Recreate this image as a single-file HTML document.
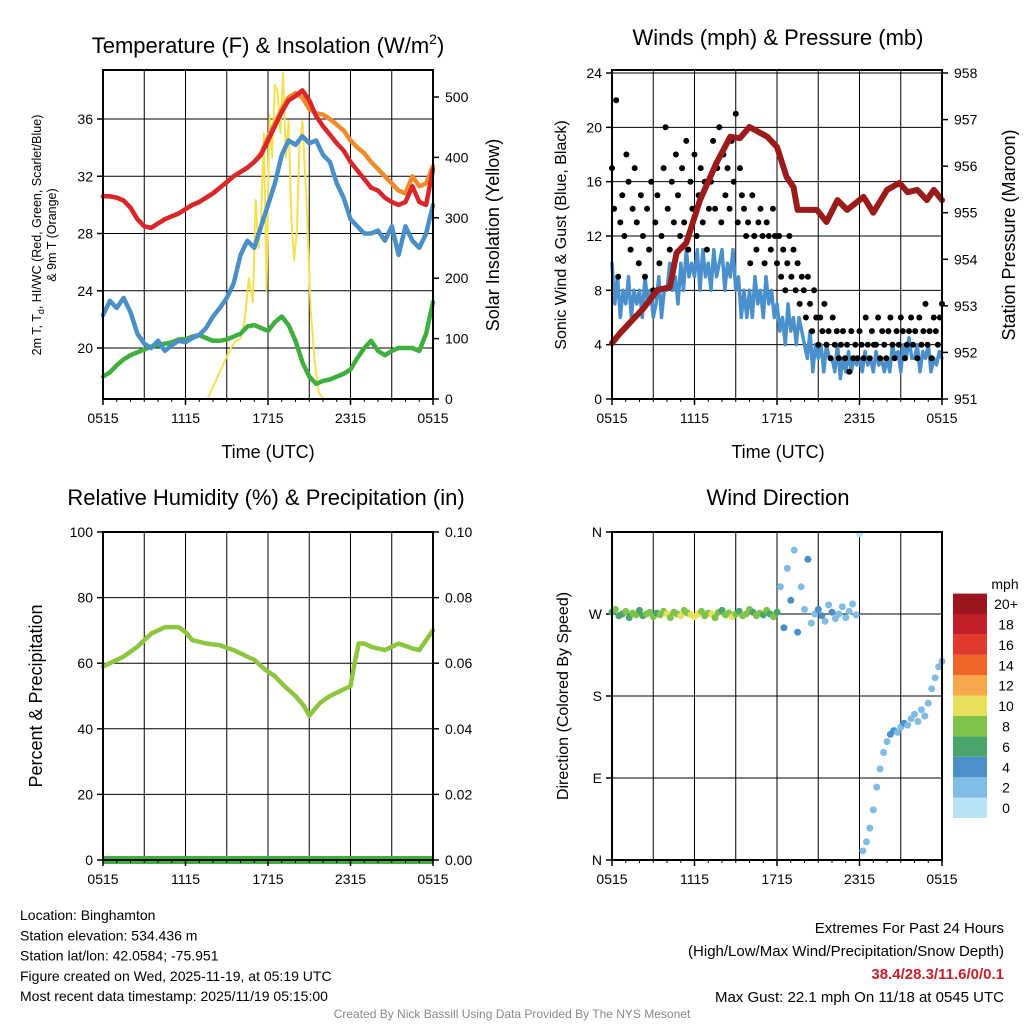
<!DOCTYPE html>
<html><head><meta charset="utf-8">
<style>
html,body{margin:0;padding:0;background:#fff;}
svg{display:block;font-family:"Liberation Sans",Arial,sans-serif;}
</style></head>
<body>
<svg id="s" width="1024" height="1024" viewBox="0 0 1024 1024" xmlns="http://www.w3.org/2000/svg">
<rect width="1024" height="1024" fill="#fff"/>
</svg>
<script>
// ---------- DATA ----------
const hourTicks = ["0515","1115","1715","2315","0515"];
const tempTicks = [20,24,28,32,36];
const insTicks = [0,100,200,300,400,500];
const windTicks = [0,4,8,12,16,20,24];
const presTicks = [951,952,953,954,955,956,957,958];
const rhTicks = [0,20,40,60,80,100];
const precipTicks = ["0.00","0.02","0.04","0.06","0.08","0.10"];
const dirTicks = ["N","E","S","W","N"];
const legendLabels = ["0","2","4","6","8","10","12","14","16","18","20+"];

const tempT = [30.6,30.6,30.5,30.3,29.8,29.0,28.5,28.4,28.7,29,29.2,29.4,29.7,30,30.2,30.5,30.8,31.2,31.6,32,32.3,32.6,33,33.5,34.5,35.5,36.5,37.3,37.6,38,37.3,36.2,35.5,34.9,34.3,33.8,33,32.4,31.8,31.2,31,30.5,30.2,30,30.2,31.3,30.2,30,32.5];
const temp9m = [30.6,30.6,30.5,30.3,29.8,29.0,28.5,28.4,28.7,29,29.2,29.4,29.7,30,30.2,30.5,30.8,31.2,31.6,32,32.3,32.6,33,33.6,34.7,35.7,36.7,37.5,37.8,37.5,36.7,36.4,36.3,36,35.6,35.2,34.5,34,33.6,33,32.5,32,31.5,31,30.8,32,31.3,31.5,32.7];
const heatIdx = [22.3,23.3,22.8,23.5,22.5,21,20.3,20,20.5,19.8,20.2,20.5,20.4,20.7,20.9,21.4,22.2,22.8,23.5,24.5,26.5,27.5,27,28.5,30,31.5,33.5,34.5,34.2,34.8,34.3,34.5,33.5,33,31.5,30.5,29,28.5,28,28,28.2,27.5,28.5,26.5,28.5,27.5,27,28,30];
const dewPt = [18,18.3,18.8,19.2,19.5,19.7,19.9,20.1,20.2,20.3,20.4,20.6,20.6,20.8,20.9,20.7,20.5,20.5,20.6,20.8,21,21.5,21.6,21.4,21.2,21.8,22.2,21.6,20.5,19,18,17.5,17.7,17.8,18,18.2,18.5,19.3,20,20.5,19.8,19.5,19.8,20,20,20,19.8,21,23.2];
const insHours = [0,7.6,8.0,8.4,8.8,9.2,9.6,10.0,10.3,10.6,10.9,11.1,11.3,11.5,11.7,11.9,12.1,12.3,12.5,12.7,12.9,13.1,13.3,13.5,13.7,13.9,14.1,14.3,14.5,14.8,15.1,15.4,15.7,16.0,24];
const insVals = [0,0,20,40,60,80,95,100,130,200,160,330,250,300,440,180,470,400,520,510,440,540,400,460,300,230,280,420,460,330,150,60,10,0,0];

const windSpd = [10,7,9,6,8,7,9,6,8,7, 8,6,9,7,8,6,7,9,6,8, 8,10,8,9,7,10,8,11,9,10, 9,11,8,11,9,10,8,11,9,10, 11,8,10,9,11,8,9,6,8,6, 8,6,9,7,8,6,9,7,8,6, 7,5,6,4,7,5,6,4,6,5, 4,3,5,2,4,3,4,2,4,3, 3,2,4,1.5,3,2,3.5,2,3,2.5, 3,2,3.5,2.5,3,2,3.5,2.5,3,2, 3,2,4,3,3.5,2,4,3,4.5,3, 3,4,2,3.5,3,4,2,3,2.5,3.5, 3];
const gustVals = [17,14,22,9,13,15,12,18,16,11,14,17,13,10,15,12,
 9,14,11,16,8,13,15,10,12,17,20,14,11,16,13,18,
 15,12,17,13,19,11,16,14,18,12,15,17,13,16,11,14,
 16,19,14,17,20,13,18,15,17,14,19,16,21,13,17,15,
 14,12,13,10,15,12,11,13,14,12,10,13,12,11,14,12,
 10,12,9,11,8,10,12,9,11,8,10,7,9,8,6,9,
 7,5,8,6,4,6,5,7,4,5,3,6,4,5,3,4,
 5,3,4,2,5,3,4,3,5,4,3,6,4,3,5,4,
 4,6,3,5,4,3,5,6,4,3,5,4,6,5,3,4,
 5,6,4,5,3,6,4,5,7,4,5,3,6,5,4,6,
 7];
const presHours = [0,0.6,1.5,2.3,3.3,4.2,4.7,5.4,6.4,7.6,8.6,9.3,10,11.3,12,12.7,13.2,13.5,14.9,15.6,16.4,17.1,18.3,19,20,20.9,21.5,22.2,22.9,23.4,24];
const presVals = [952.2,952.42,952.7,952.95,953.34,953.4,954.14,954.35,955.27,956.07,956.63,956.6,956.84,956.63,956.41,955.77,955.55,955.06,955.06,954.8,955.27,955.06,955.34,955.0,955.49,955.64,955.44,955.49,955.27,955.49,955.27];

const rhHours = [0,1.5,2.5,3.5,4.5,5.5,6,6.5,7.5,8.5,9.5,10.5,11,11.8,12.5,13.2,14,14.6,15,15.4,15.8,16.5,17.5,18,18.3,18.6,19,19.5,20.5,21,21.5,22.5,23,23.5,24];
const rhVals = [59,62,65,69,71,71,69.5,67,66,65.5,64,62,61,58,56,53,50,47,44,46,48,50,52,53,60,66,66,65,64,65,66,64.5,64,67,70];

const dirVals = [272,275,268,270,273,266,271,269,274,268,270,272,267,271,269,273,270,266,272,270,268,274,271,269,267,270,273,268,271,270,266,272,274,269,271,267,270,273,268,270,275,272,268,271,269,274,270,267,272,
 300,255,320,285,340,250,300,275,330,260,
 270,275,268,262,280,272,265,270,278,266,273,281,269,
 358,10,20,35,55,80,100,118,130,138,142,140,146,150,148,155,160,152,165,158,172,188,200,212,218];
const dirSpd = [7,8,7,6,8,7,9,8,7,6,8,9,8,7,8,9,10,9,8,9,10,9,8,10,11,10,9,8,9,10,9,8,7,8,9,10,8,7,8,9,8,7,8,9,7,8,7,8,7,
 3,4,2,4,3,5,2,3,4,3,
 3,4,5,2,3,4,2,3,2,3,2,2,3,
 1,2,2,3,2,2,3,2,3,4,4,3,2,4,3,2,3,2,3,2,2,2,2,2,2];
const speedColors = ["#b8e3f7","#7fbce6","#4a8fc8","#4aa56c","#7fc34a","#e6e05a","#f6a84a","#f0662a","#e03a2c","#c11e28","#9a161c"];

// ---------- HELPERS ----------
const S = document.getElementById('s');
const NS = "http://www.w3.org/2000/svg";
function mk(tag, attrs, parent){ const e=document.createElementNS(NS,tag); for(const k in attrs) e.setAttribute(k,attrs[k]); (parent||S).appendChild(e); return e; }
function txt(x,y,str,size,anchor,parent,extra){ const t=mk('text',Object.assign({x:x,y:y,'font-size':size,'text-anchor':anchor||'middle',fill:'#000'},extra||{}),parent); t.textContent=str; return t; }
function lin(d0,d1,r0,r1){ return v=>r0+(v-d0)*(r1-r0)/(d1-d0); }

const P = [
 {x0:103,x1:433,y0:70,y1:399},
 {x0:612,x1:942,y0:70,y1:399},
 {x0:103,x1:433,y0:532,y1:860},
 {x0:612,x1:942,y0:532,y1:860}
];
function frame(p,name){
  const g=mk('g',{});
  
  
  for(let h=3;h<24;h+=3){ const x=p.x0+h*(p.x1-p.x0)/24; mk('line',{x1:x,x2:x,y1:p.y0,y2:p.y1,stroke:'#000','stroke-width':1},g); }
  return g;
}
function box(p){ mk('rect',{x:p.x0,y:p.y0,width:p.x1-p.x0,height:p.y1-p.y0,fill:'none',stroke:'#000','stroke-width':2}); }
function xAxis(p,name){
  const g=mk('g',{});
  
  
  hourTicks.forEach((lab,i)=>{ const x=p.x0+i*(p.x1-p.x0)/4; mk('line',{x1:x,x2:x,y1:p.y1,y2:p.y1+6,stroke:'#000','stroke-width':1.5},g); txt(x,p.y1+24,lab,14,'middle',g); });
  for(let h=1;h<24;h++){ if(h%6){ const x=p.x0+h*(p.x1-p.x0)/24; mk('line',{x1:x,x2:x,y1:p.y1,y2:p.y1+3,stroke:'#000'},g);} }
}
function yAxis(p,ticks,labels,sc,side,name,grid){
  const g=mk('g',{});
  
  
  ticks.forEach((v,i)=>{ const y=sc(v); const xe= side==='l'?p.x0:p.x1; const d= side==='l'?-6:6;
    if(grid) mk('line',{x1:p.x0,x2:p.x1,y1:y,y2:y,stroke:'#000','stroke-width':1},g);
    mk('line',{x1:xe,x2:xe+d,y1:y,y2:y,stroke:'#000','stroke-width':1.5},g);
    txt(side==='l'?xe-10:xe+12,y+5,labels[i],14,side==='l'?'end':'start',g); });
}
function hx(p){ return h=>p.x0+h*(p.x1-p.x0)/24; }
function line(pts,color,w,name){ const e=mk('polyline',{points:pts.map(a=>a[0].toFixed(1)+','+a[1].toFixed(1)).join(' '),fill:'none',stroke:color,'stroke-width':w,'stroke-linejoin':'round','stroke-linecap':'round'});   return e; }

// ---------- PANEL 1 ----------
{const p=P[0]; const X=hx(p);
 const yT=lin(20,36,348,119), yI=lin(0,500,399,97);
 frame(p,'temperature-grid');
 yAxis(p,tempTicks,tempTicks.map(String),yT,'l','temperature-y-axis',true);
 yAxis(p,insTicks,insTicks.map(String),yI,'r','insolation-y-axis',false);
 line(insHours.map((h,i)=>[X(h),yI(insVals[i])]),'#f5e050',2,'insolation-line');
 line(dewPt.map((v,i)=>[X(i*0.5),yT(v)]),'#3fae3f',4.5,'dewpoint-line');
 line(heatIdx.map((v,i)=>[X(i*0.5),yT(v)]),'#4a8fc8',4.5,'wind-chill-line');
 line(temp9m.map((v,i)=>[X(i*0.5),yT(v)]),'#f08a2a',4.5,'temp-9m-line');
 line(tempT.map((v,i)=>[X(i*0.5),yT(v)]),'#d8262a',4.5,'temp-2m-line');
 box(p); xAxis(p,'temperature-x-axis');
 const t=txt(268,53,'Temperature (F) & Insolation (W/m',22,'middle'); const sup=mk('tspan',{dy:-9,'font-size':14},t); sup.textContent='2'; const cl=mk('tspan',{dy:9},t); cl.textContent=')';
 
 txt(268,458,'Time (UTC)',18,'middle');
 const g=mk('g',{transform:'translate(41,235) rotate(-90)'}); 
 const t1=txt(0,0,'2m T, T',12.5,'middle',g); const sb=mk('tspan',{dy:3,'font-size':9},t1); sb.textContent='d'; const rs=mk('tspan',{dy:-3},t1); rs.textContent=', HI/WC (Red, Green, Scarlet/Blue)';
 txt(0,15,'& 9m T (Orange)',12.5,'middle',g);
 const g2=mk('g',{transform:'translate(499,235) rotate(-90)'});  txt(0,0,'Solar Insolation (Yellow)',18,'middle',g2);
}
// ---------- PANEL 2 ----------
{const p=P[1]; const X=hx(p);
 const yW=lin(0,24,399,73), yP=lin(951,958,399,73);
 frame(p,'wind-grid');
 yAxis(p,windTicks,windTicks.map(String),yW,'l','wind-y-axis',true);
 yAxis(p,presTicks,presTicks.map(String),yP,'r','pressure-y-axis',false);
 line(windSpd.map((v,i)=>[X(i*0.2),yW(v)]),'#4a90cc',3.5,'sonic-wind-line');
 gustVals.forEach((v,i)=>{ const c=mk('circle',{cx:X(i*0.15).toFixed(1),cy:yW(v).toFixed(1),r:3,fill:'#000'});
  
   });
 line(presHours.map((h,i)=>[X(h),yP(presVals[i])]),'#9b1a1a',6,'pressure-line');
 box(p); xAxis(p,'wind-x-axis');
 txt(778,45,'Winds (mph) & Pressure (mb)',22,'middle');
 txt(778,458,'Time (UTC)',18,'middle');
 const g=mk('g',{transform:'translate(566,235) rotate(-90)'});  txt(0,0,'Sonic Wind & Gust (Blue, Black)',16,'middle',g);
 const g2=mk('g',{transform:'translate(1015,235) rotate(-90)'});  txt(0,0,'Station Pressure (Maroon)',18,'middle',g2);
}
// ---------- PANEL 3 ----------
{const p=P[2]; const X=hx(p);
 const yR=lin(0,100,860,532);
 frame(p,'humidity-grid');
 yAxis(p,rhTicks,rhTicks.map(String),yR,'l','humidity-y-axis',true);
 yAxis(p,rhTicks,precipTicks,yR,'r','precip-y-axis',false);
 line(rhHours.map((h,i)=>[X(h),yR(rhVals[i])]),'#8cc63f',4.5,'humidity-line');
 const pr=mk('line',{x1:p.x0,x2:p.x1,y1:860,y2:860,stroke:'#3fae3f','stroke-width':8});  
 box(p); xAxis(p,'humidity-x-axis');
 txt(266,505,'Relative Humidity (%) & Precipitation (in)',22,'middle');
 const g=mk('g',{transform:'translate(42,696) rotate(-90)'});  txt(0,0,'Percent & Precipitation',18,'middle',g);
}
// ---------- PANEL 4 ----------
{const p=P[3]; const X=hx(p);
 const yD=lin(0,360,860,532);
 frame(p,'direction-grid');
 yAxis(p,[0,90,180,270,360],dirTicks,yD,'l','direction-y-axis',true);
 dirVals.forEach((v,i)=>{ const ci=Math.min(10,Math.floor(dirSpd[i]/2));
  const c=mk('circle',{cx:X(i*0.25).toFixed(1),cy:yD(v).toFixed(1),r:3.5,fill:speedColors[ci]});
  
   });
 box(p); xAxis(p,'direction-x-axis');
 txt(778,505,'Wind Direction',22,'middle');
 const g=mk('g',{transform:'translate(568,696) rotate(-90)'});  txt(0,0,'Direction (Colored By Speed)',16,'middle',g);
 const lg=mk('g',{});  
 txt(1005,589,'mph',14,'middle',lg);
 legendLabels.forEach((lab,i)=>{ const y=818-(i+1)*20.4; mk('rect',{x:953,y:y,width:34,height:20.4,fill:speedColors[i]},lg); txt(1006,y+15.5,lab,14,'middle',lg); });
}
// ---------- FOOTER ----------
{const f=mk('g',{});  
 ["Location: Binghamton","Station elevation: 534.436 m","Station lat/lon: 42.0584; -75.951","Figure created on Wed, 2025-11-19, at 05:19 UTC","Most recent data timestamp: 2025/11/19 05:15:00"].forEach((s,i)=>txt(20,920+i*20.3,s,14,'start',f));
 const e=mk('g',{});  
 txt(1004,933,'Extremes For Past 24 Hours',15,'end',e);
 txt(1004,956,'(High/Low/Max Wind/Precipitation/Snow Depth)',15,'end',e);
 txt(1004,979,'38.4/28.3/11.6/0/0.1',15,'end',e,{fill:'#c8202a','font-weight':'bold'});
 txt(1004,1002,'Max Gust: 22.1 mph On 11/18 at 0545 UTC',15,'end',e);
 txt(512,1018,'Created By Nick Bassill Using Data Provided By The NYS Mesonet',12,'middle',null,{fill:'#888'});
}
</script>
</body></html>
